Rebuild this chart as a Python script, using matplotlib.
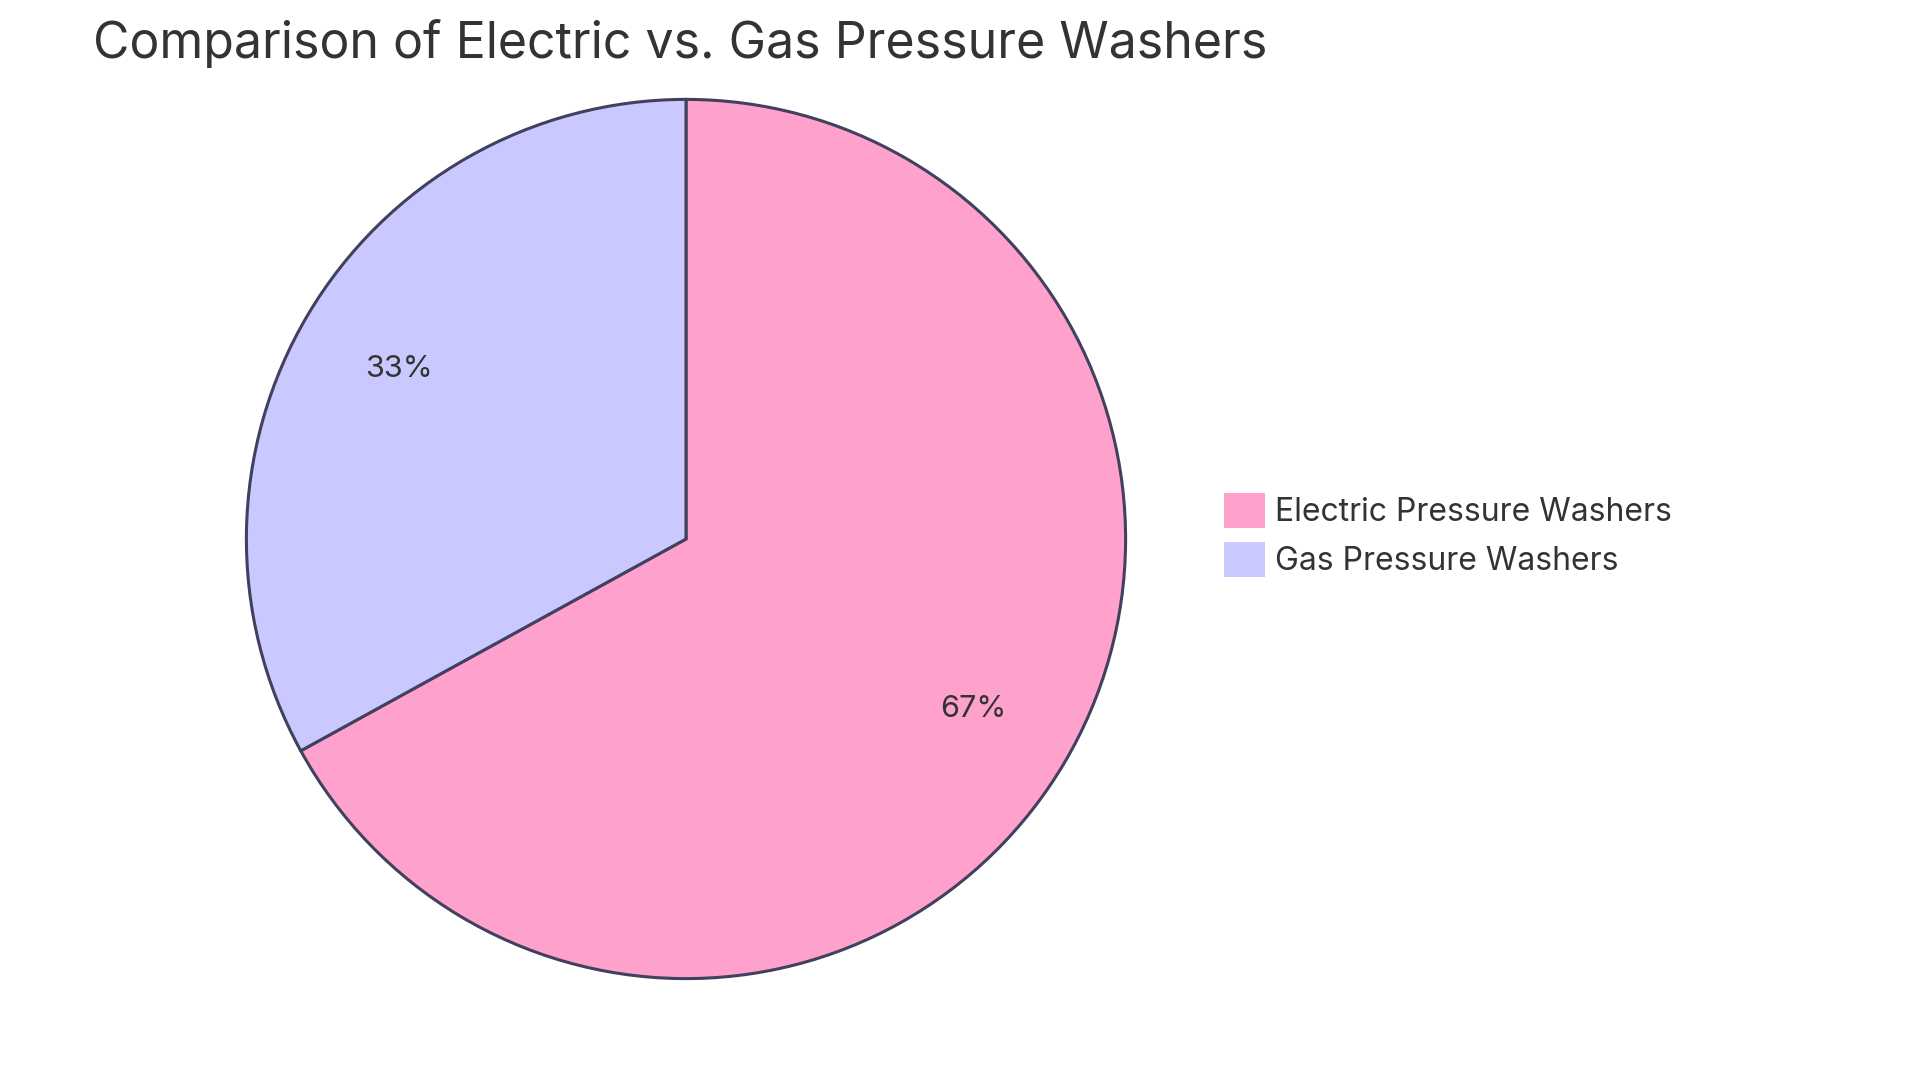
import matplotlib
matplotlib.use("Agg")
import matplotlib.pyplot as plt
from matplotlib.patches import Patch

labels = ["Electric Pressure Washers", "Gas Pressure Washers"]
values = [67, 33]
colors = ["#FFA1CD", "#C9C9FF"]

plt.rcParams['font.family'] = ['Inter', 'DejaVu Sans']
W, H = 1920, 1080
fig = plt.figure(figsize=(19.2, 10.8), dpi=100)
cx, cy, r = 686, 539, 444
ax = fig.add_axes([(cx - r) / W, (H - cy - r) / H, 2 * r / W, 2 * r / H])
ax.pie(values, colors=colors, startangle=90, counterclock=False,
       autopct='%1.0f%%', pctdistance=0.76,
       wedgeprops=dict(edgecolor="#41405E", linewidth=2.2),
       textprops=dict(fontsize=22, color="#333333"))
ax.set_aspect('equal')
ax.set_xlim(-1.01, 1.01); ax.set_ylim(-1.01, 1.01)
ax.axis('off')

fig.text(93 / W, 1 - 43 / H, "Comparison of Electric vs. Gas Pressure Washers",
         fontsize=36, color="#333333", va='center', ha='left')

handles = [Patch(facecolor=c, edgecolor='none') for c in colors]
fig.legend(handles, labels, loc='center left', bbox_to_anchor=(1195 / W, 1 - 535 / H),
           frameon=False, fontsize=23, labelcolor="#333333",
           handlelength=1.3, handleheight=1.3, handletextpad=0.3, labelspacing=0.45)

fig.savefig("out.png", dpi=100)
